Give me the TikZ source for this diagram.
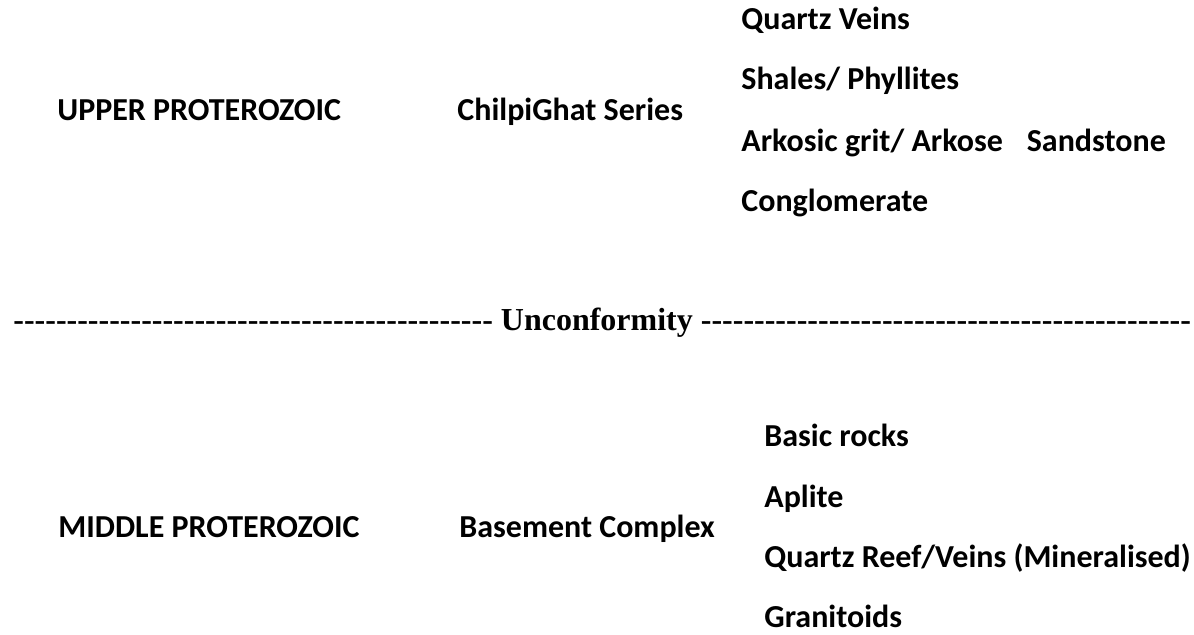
\documentclass[tikz,border=0pt]{standalone}
\usepackage{fontspec}
\setmainfont{Carlito}
\newfontfamily\tnrfont{Liberation Serif}
\newcommand\hyphrun[1]{\foreach\k in {1,...,#1}{\mbox{-}}}
\begin{document}
\begin{tikzpicture}[x=0.5pt,y=-0.5pt,
  lbl/.style={anchor=base west,inner sep=0pt,font=\fontsize{16}{19}\selectfont\bfseries},
  unc/.style={anchor=base west,inner sep=0pt,font=\fontsize{16}{19}\selectfont\tnrfont\bfseries}]
\useasboundingbox[fill=white] (0,0) rectangle (1194,635);
% upper block
\node[lbl] (upper) at (57,121) {UPPER PROTEROZOIC};
\node[lbl] (chilpi) at (457,121) {ChilpiGhat Series};
\node[lbl] (qv) at (741,30) {Quartz Veins};
\node[lbl] (shales) at (741,90) {Shales/ Phyllites};
\node[lbl] (arkosic) at (741,152) {Arkosic grit/ Arkose\hspace{12pt}Sandstone};
\node[lbl] (congl) at (741,212) {Conglomerate};
% unconformity
\node[unc] (unconf) at (13,331) {\hyphrun{45} Unconformity \hyphrun{46}};
% lower block
\node[lbl] (middle) at (58,538) {MIDDLE PROTEROZOIC};
\node[lbl] (basement) at (459,538) {Basement Complex};
\node[lbl] (basic) at (764,447) {Basic rocks};
\node[lbl] (aplite) at (764,508) {Aplite};
\node[lbl] (qreef) at (764,568) {Quartz Reef/Veins (Mineralised)};
\node[lbl] (granit) at (764,628) {Granitoids};
\end{tikzpicture}
\end{document}
